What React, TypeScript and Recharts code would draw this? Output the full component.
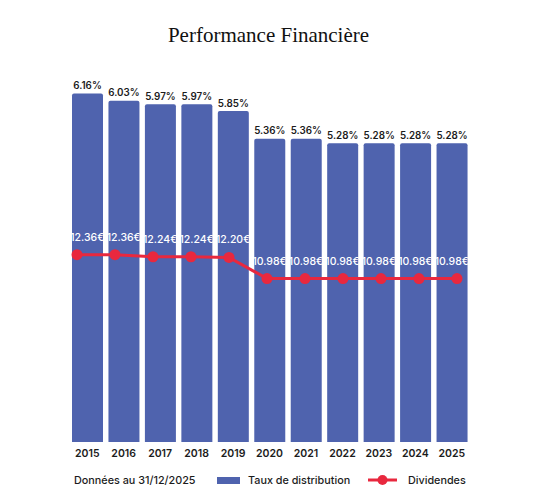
import { ComposedChart, Bar, Line, XAxis, YAxis, LabelList, Legend } from "recharts";

const years = ["2015", "2016", "2017", "2018", "2019", "2020", "2021", "2022", "2023", "2024", "2025"];
const distributionRates = [6.16, 6.03, 5.97, 5.97, 5.85, 5.36, 5.36, 5.28, 5.28, 5.28, 5.28];
const dividends = [12.36, 12.36, 12.24, 12.24, 12.2, 10.98, 10.98, 10.98, 10.98, 10.98, 10.98];

const BLUE = "#4F63AE";
const RED = "#E8283E";
const TEXT = "#1c1c1c";
const SANS = "Inter, 'Noto Sans', sans-serif";

const data = years.map((year, i) => ({
  year,
  taux: distributionRates[i],
  dividende: dividends[i],
}));

function LegendRow() {
  const item = { position: "absolute" as const, top: 0, height: 36, display: "flex", alignItems: "center" };
  return (
    <div style={{ position: "relative", width: 537, height: 36, fontFamily: SANS, fontSize: 10.8, fontWeight: 500, color: TEXT }}>
      <div style={{ ...item, left: 74 }}>Données au 31/12/2025</div>
      <div style={{ ...item, left: 217 }}>
        <div style={{ width: 23, height: 7, background: BLUE }} />
      </div>
      <div style={{ ...item, left: 248 }}>Taux de distribution</div>
      <div style={{ ...item, left: 368 }}>
        <svg width={29} height={12}>
          <line x1={0} y1={6} x2={29} y2={6} stroke={RED} strokeWidth={3} />
          <circle cx={14.5} cy={6} r={5} fill={RED} />
        </svg>
      </div>
      <div style={{ ...item, left: 408 }}>Dividendes</div>
    </div>
  );
}

export default function App() {
  return (
    <div style={{ position: "absolute", left: 0, top: 0, width: 537, height: 500, background: "#fff" }}>
      <div
        style={{
          position: "absolute",
          top: 23,
          left: 0,
          width: 537,
          textAlign: "center",
          fontFamily: "'Liberation Serif', serif",
          fontSize: 21,
          color: "#111",
        }}
      >
        Performance Financière
      </div>
      <ComposedChart width={537} height={500} data={data} margin={{ top: 46, right: 67, bottom: 2, left: 69 }}>
        <XAxis
          xAxisId="bars"
          dataKey="year"
          axisLine={false}
          tickLine={false}
          height={20}
          interval={0}
          tick={{ fill: TEXT, fontSize: 10.5, fontWeight: 600, fontFamily: SANS }}
        />
        <XAxis xAxisId="line" dataKey="year" hide scale="point" padding={{ left: 8, right: 13 }} />
        <YAxis yAxisId="left" hide domain={[0, 7]} allowDataOverflow />
        <YAxis yAxisId="right" hide domain={[1.55, 24.4]} allowDataOverflow />
        <Legend verticalAlign="bottom" content={() => <LegendRow />} wrapperStyle={{ left: 0, bottom: 2, width: 537, height: 36 }} />
        <Bar
          dataKey="taux"
          name="Taux de distribution"
          xAxisId="bars"
          yAxisId="left"
          fill={BLUE}
          barSize={31}
          radius={[2, 2, 0, 0]}
          isAnimationActive={false}
        >
          <LabelList
            dataKey="taux"
            position="top"
            offset={4.5}
            formatter={(v: number) => `${v.toFixed(2)}%`}
            style={{ fill: TEXT, fontSize: 9.8, fontWeight: 600, fontFamily: SANS }}
          />
        </Bar>
        <Line
          dataKey="dividende"
          name="Dividendes"
          xAxisId="line"
          yAxisId="right"
          stroke={RED}
          strokeWidth={3}
          dot={{ r: 5.5, fill: RED, stroke: "none" }}
          activeDot={false}
          isAnimationActive={false}
        />
        <Line
          dataKey="dividende"
          xAxisId="bars"
          yAxisId="right"
          stroke="none"
          dot={false}
          activeDot={false}
          legendType="none"
          isAnimationActive={false}
        >
          <LabelList
            dataKey="dividende"
            position="top"
            offset={14}
            formatter={(v: number) => `${v.toFixed(2)}€`}
            style={{ fill: "#fff", fontSize: 10.5, fontWeight: 500, fontFamily: SANS }}
          />
        </Line>
      </ComposedChart>
    </div>
  );
}
